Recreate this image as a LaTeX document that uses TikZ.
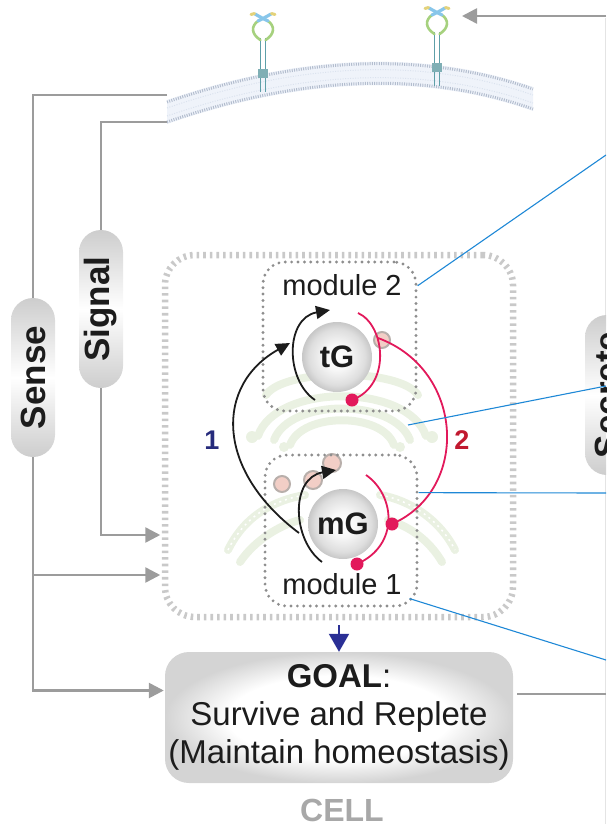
\documentclass[tikz,border=0pt]{standalone}
\usepackage{fontspec}
\setmainfont{Liberation Sans}
\usetikzlibrary{arrows.meta,calc}

\definecolor{lineGray}{HTML}{9C9C9C}
\definecolor{pillEdge}{HTML}{CDCDCD}
\definecolor{boxEdge}{HTML}{D4D4D4}
\definecolor{inkBlack}{HTML}{1C1C1C}
\definecolor{cellDash}{HTML}{C9C9C9}
\definecolor{modDot}{HTML}{8E8E8E}
\definecolor{loopRed}{HTML}{E2195B}
\definecolor{labRed}{HTML}{C1192F}
\definecolor{labNavy}{HTML}{262B7C}
\definecolor{pointBlue}{HTML}{1E88D6}
\definecolor{goalBlue}{HTML}{2A2F95}
\definecolor{golgiGreen}{HTML}{EAF1E2}
\definecolor{vesFill}{HTML}{F2CEC6}
\definecolor{vesRing}{HTML}{B8AFAB}
\definecolor{memFill}{HTML}{EFF3FA}
\definecolor{memHead}{HTML}{B3BDCE}
\definecolor{memTail}{HTML}{DAE2EE}
\definecolor{stalkTeal}{HTML}{5E9FA8}
\definecolor{blockTeal}{HTML}{7FAFB5}
\definecolor{loopGreen}{HTML}{A6D17E}
\definecolor{headBlue}{HTML}{88C6EA}
\definecolor{tipYellow}{HTML}{E3D27A}
\definecolor{cellGray}{HTML}{A8A8A8}
\definecolor{edgeGray}{HTML}{E4E4E4}

% soft vignette for the goal box and the organelle spheres
\pgfdeclareradialshading{goalglow}{\pgfpoint{0bp}{0bp}}{color(0bp)=(white); color(16bp)=(white); color(25bp)=(boxEdge); color(50bp)=(boxEdge)}
\pgfdeclareradialshading{sphere}{\pgfpoint{0bp}{0bp}}{color(0bp)=(white); color(9bp)=(white!97!black); color(20bp)=(white!87!black); color(25bp)=(white!78!black); color(50bp)=(white!78!black)}

\tikzset{
  receptor/.pic={
    \draw[stalkTeal, line width=1.3pt] (-2.6,20) -- (-2.6,74);
    \draw[stalkTeal, line width=1.3pt] (2.6,20) -- (2.6,74);
    \fill[blockTeal] (-5,51) rectangle (5,60);
    \draw[loopGreen, line width=2.6pt, line cap=round] (-2.6,22) .. controls (-12,16) and (-12,8) .. (-5,3);
    \draw[loopGreen, line width=2.6pt, line cap=round] (2.6,22) .. controls (12,16) and (12,8) .. (5,3);
    \draw[headBlue, line width=3.2pt, line cap=round] (-8,-4) .. controls (-3,-1) and (1,1) .. (5,3);
    \draw[headBlue, line width=3.2pt, line cap=round] (8,-4) .. controls (3,-1) and (-1,1) .. (-5,3);
    \draw[tipYellow, line width=3pt, line cap=round] (-12,-3.5) -- (-8.5,-4.5);
    \draw[tipYellow, line width=3pt, line cap=round] (8.5,-4.5) -- (12,-3.5);
  }
}

\begin{document}
\begin{tikzpicture}[x=1pt, y=-1pt,
  grayline/.style={draw=lineGray, line width=2.6pt},
  grayarrow/.style={grayline, -{Triangle[length=15pt,width=15pt]}},
  pill/.style={rotate=90, rectangle, rounded corners=22pt, minimum height=44pt,
    inner sep=0pt, top color=pillEdge, bottom color=pillEdge, middle color=white,
    font=\fontsize{35}{40}\selectfont\bfseries, text=inkBlack},
  cellbox/.style={draw=cellDash, line width=6.5pt, dash pattern=on 2.6pt off 4pt,
    rounded corners=30pt, minimum width=348pt, minimum height=362pt, inner sep=0pt},
  modbox/.style={draw=modDot, line width=3.2pt, dash pattern=on 0pt off 6.4pt,
    line cap=round, rounded corners=22pt, inner sep=0pt},
  organelle/.style={circle, minimum size=70pt, inner sep=0pt, shade, shading=sphere,
    font=\fontsize{31}{36}\selectfont\bfseries, text=inkBlack},
  modlabel/.style={font=\fontsize{29}{34}\selectfont, text=inkBlack, inner sep=0pt, anchor=base},
  looplabel/.style={font=\fontsize{27}{32}\selectfont\bfseries, inner sep=0pt},
  blackarc/.style={draw=inkBlack, line width=1.8pt, -{Triangle[length=14pt,width=13pt]}},
  redarc/.style={draw=loopRed, line width=1.8pt},
  pointer/.style={draw=pointBlue, line width=1.1pt},
  golgi/.style={draw=golgiGreen, line width=8pt, line cap=round},
  vesicle/.style={fill=vesFill, draw=vesRing, line width=2pt},
  goalbox/.style={rectangle, rounded corners=24pt, minimum width=348pt, minimum height=131pt,
    inner sep=0pt, shade, shading=goalglow, align=center,
    font=\fontsize{33}{38}\selectfont, text=inkBlack},
  goalarrow/.style={draw=goalBlue, line width=2pt, -{Triangle[length=18pt,width=20pt]}}
]
\useasboundingbox (0,0) rectangle (606,824);
\clip (0,0) rectangle (606,824);

% edge of the neighbouring panel
\draw[edgeGray, line width=1pt] (605.5,18) -- (605.5,824);

% plasma membrane (lipid bilayer)
\fill[memFill] (167,100) .. controls (302.3,53.7) and (424.3,49.3) .. (533,87)
  -- (533,111) .. controls (424.3,72.7) and (302.3,77.3) .. (167,124) -- cycle;
\draw[memTail, line width=1pt, dash pattern=on 1pt off 1.5pt] (167,108) .. controls (302.3,61.7) and (424.3,57.3) .. (533,95);
\draw[memTail, line width=1pt, dash pattern=on 1pt off 1.5pt] (167,116) .. controls (302.3,69.7) and (424.3,65.3) .. (533,103);
\draw[memHead, line width=3pt, dash pattern=on 1pt off 1.3pt] (167,102) .. controls (302.3,55.7) and (424.3,51.3) .. (533,89);
\draw[memHead, line width=3pt, dash pattern=on 1pt off 1.3pt] (167,122) .. controls (302.3,75.3) and (424.3,70.7) .. (533,109);

% surface receptors
\pic (rec1) at (263,18) {receptor};
\pic (rec2) at (437,12) {receptor};

% external input
\coordinate (extIn) at (606,16);
\coordinate (recTip) at (462,16);
\draw[grayarrow] (extIn) -- (recTip);

% Golgi stack and ER in the background
\draw[golgi] (290,445) .. controls (302,412) and (382,412) .. (394,445);
\draw[golgi] (274,440) .. controls (290,398) and (394,398) .. (410,440);
\draw[golgi] (258,436) .. controls (276,383) and (408,383) .. (426,436);
\draw[golgi] (266,395) .. controls (284,368) and (400,368) .. (418,395);
\draw[golgi] (228,550) .. controls (245,515) and (275,500) .. (305,495);
\draw[golgi] (240,562) .. controls (255,540) and (280,525) .. (300,520);
\draw[golgi] (380,495) .. controls (410,500) and (440,520) .. (455,550);
\draw[golgi] (388,520) .. controls (415,528) and (432,545) .. (442,562);
\fill[golgiGreen] (252,437) circle (6) (432,437) circle (6) (284,447) circle (5) (400,447) circle (5);
\draw[white, line width=1.5pt, dash pattern=on 2pt off 4pt] (228,550) .. controls (245,515) and (275,500) .. (305,495);
\draw[white, line width=1.5pt, dash pattern=on 2pt off 4pt] (380,495) .. controls (410,500) and (440,520) .. (455,550);

% vesicles
\filldraw[vesicle] (382,340) circle (8);
\filldraw[vesicle] (332,463) circle (9);
\filldraw[vesicle] (313,480) circle (9);
\filldraw[vesicle] (282,484) circle (8);

% cell compartment and the two modules
\node[cellbox] (cellbox) at (339,436) {};
\node[modbox, minimum width=153pt, minimum height=149pt] (mod2) at (339.5,336.5) {};
\node[modbox, minimum width=152pt, minimum height=151pt] (mod1) at (341,530.5) {};
\node[modlabel] (mod2lab) at (342,295) {module 2};
\node[modlabel] (mod1lab) at (342,594) {module 1};

% Golgi compartments
\node[organelle] (tG) at (337,357) {tG};
\node[organelle] (mG) at (343,524) {mG};

% positive loops (black)
\draw[blackarc] ($(tG)+(-22,43)$) .. controls ($(tG)+(-52,23)$) and ($(tG)+(-52,-39)$) .. ($(tG)+(-7,-47)$);
\draw[blackarc] ($(mG)+(-21,38)$) .. controls ($(mG)+(-51,16)$) and ($(mG)+(-53,-46)$) .. ($(mG)+(-7,-54)$);
\draw[blackarc] ($(mG)+(-44,9)$) .. controls (215,470) and (215,385) .. ($(tG)+(-47,-14)$);

% negative loops (red)
\coordinate (tGdot) at ($(tG)+(15,43)$);
\coordinate (mGdot) at ($(mG)+(14,40)$);
\coordinate (crossdot) at ($(mG)+(49,0)$);
\draw[redarc] ($(tG)+(21,-44)$) .. controls ($(tG)+(48,-32)$) and ($(tG)+(55,28)$) .. (tGdot);
\draw[redarc] ($(mG)+(23,-49)$) .. controls ($(mG)+(52,-29)$) and ($(mG)+(57,21)$) .. (mGdot);
\draw[redarc] ($(tG)+(41,-19)$) .. controls (465,370) and (470,490) .. (crossdot);
\fill[loopRed] (tGdot) circle (6.5);
\fill[loopRed] (mGdot) circle (6.5);
\fill[loopRed] (crossdot) circle (6.5);

\node[looplabel, text=labNavy] (lab1) at (212,440) {1};
\node[looplabel, text=labRed] (lab2) at (462,440) {2};

% sensing and signalling inputs
\node[pill, minimum width=159pt] (sense) at (33,377.5) {Sense};
\node[pill, minimum width=158pt] (signal) at (101,309) {Signal};
\node[pill, minimum width=160pt] (secrete) at (607,395) {Secrete};

\coordinate (memTop) at (167,95);
\coordinate (memLow) at (167,122);
\coordinate (sigIn) at ($(cellbox.west)+(0,99)$);
\coordinate (senseIn) at ($(cellbox.west)+(0,139)$);
\draw[grayline] (memTop) -| (sense.east);
\draw[grayline] (memLow) -| (signal.east);
\draw[grayarrow, shorten >=1.5pt] (signal.west) |- (sigIn);
\draw[grayarrow, shorten >=1.5pt] (sense.west |- senseIn) -- (senseIn);

% goal of the cell
\node[goalbox] (goal) at (339,717.5) {\textbf{GOAL}:\\Survive and Replete\\(Maintain homeostasis)};
\node[font=\fontsize{32}{36}\selectfont\bfseries, text=cellGray, anchor=base, inner sep=0pt] (cell) at (342,821) {CELL};
\draw[grayarrow, shorten >=1pt] (sense.west) |- ($(goal.west)+(0,-27)$);
\draw[goalarrow, shorten <=5pt] (cellbox.south) -- (goal.north);
\coordinate (goalOut) at (606,694);
\draw[grayline, shorten <=4pt] (goal.east |- goalOut) -- (goalOut);

% pointers to the detail panels
\coordinate (outA) at (606,155);
\coordinate (outB) at (606,386);
\coordinate (outC) at (606,493);
\coordinate (outD) at (606,660);
\coordinate (golgiPt) at (408,425);
\draw[pointer] (mod2.33) -- (outA);
\draw[pointer] (golgiPt) -- (outB);
\draw[pointer] (mod1.26.3) -- (outC);
\draw[pointer] ($(mod1.south east)+(-9,-9)$) -- (outD);
\end{tikzpicture}
\end{document}
